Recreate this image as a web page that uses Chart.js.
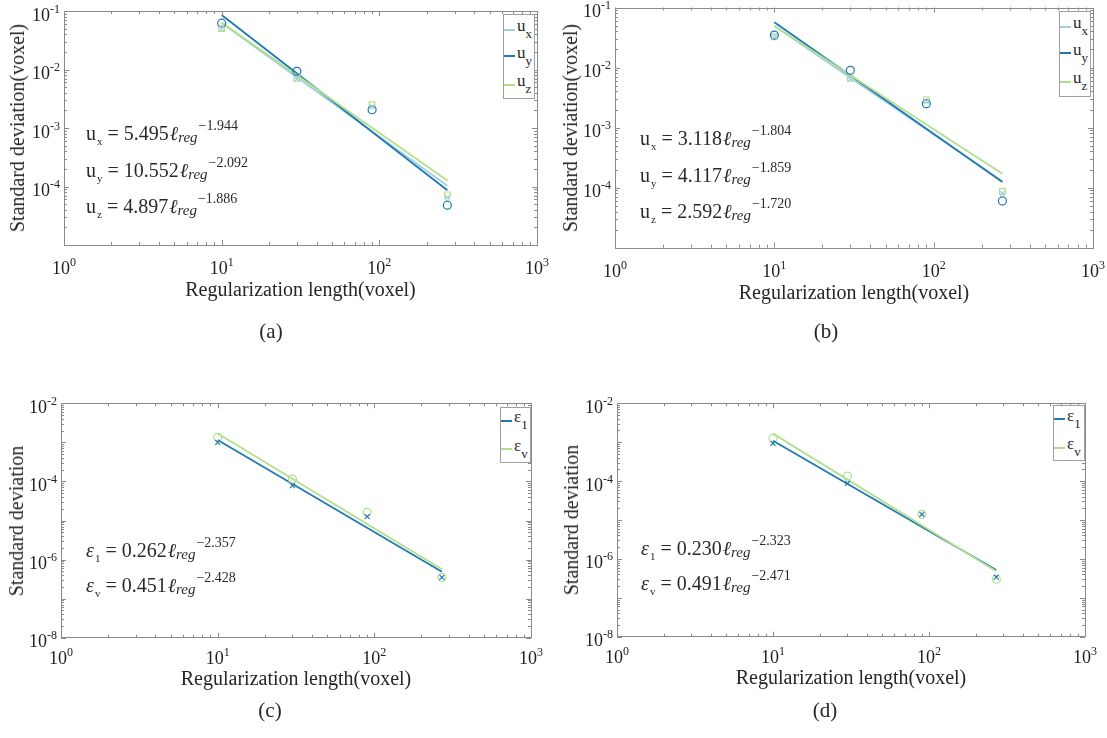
<!DOCTYPE html>
<html lang="en">
<head>
  <meta charset="UTF-8">
  <title>Standard deviation vs regularization length</title>
  <script src="https://cdn.jsdelivr.net/npm/chart.js"></script>
  <style>
    body {
      margin: 0;
      background: #fff;
      font-family: "Liberation Serif", "Times New Roman", serif;
      color: #262626;
    }
    #page { position: relative; width: 1107px; height: 738px; overflow: hidden; }
    .panel { position: absolute; width: 553px; height: 369px; }
    .panel canvas { position: absolute; left: 0; top: 0; }
    .txt { position: absolute; white-space: nowrap; line-height: 1; }
    .xtitle { font-size: 20px; transform: translateX(-50%); }
    .ytitle { font-size: 20px; transform: translate(-50%, -50%) rotate(-90deg); }
    .caption { font-size: 21px; transform: translateX(-50%); }
    .eq { font-size: 20px; color: #2a2a2a; }
    .eq .sub { font-size: 11px; position: relative; top: 5px; margin-left: 1px; }
    .eq .ell { font-style: italic; margin-left: 1px; }
    .eq .reg { font-size: 15px; font-style: italic; position: relative; top: 2px; }
    .eq .sup { font-size: 14px; position: relative; top: -10px; margin-left: 1px; }
    .eq .gr { font-style: italic; }
    .legend { position: absolute; border: 1px solid #a0a0a0; background: #fff; box-sizing: border-box; }
    .lline { position: absolute; left: 0; width: 11px; height: 2px; }
    .ltxt { position: absolute; left: 13px; font-size: 17px; line-height: 1; white-space: nowrap; color: #262626; }
    .ltxt .lsub { font-size: 13px; position: relative; top: 7px; }
  </style>
</head>
<body>
<div id="page"></div>

<script>
  // x positions of the measurements and of the fitted lines
  const regLength = [10, 30, 90, 270];
  const fitEnds = [10, 270];
  const xTickExps = [0, 1, 2, 3];

  // (a) displacement
  const aUx = [0.050, 0.0069, 0.0023, 6.5e-5];
  const aUy = [0.062, 0.0093, 0.00205, 4.8e-5];
  const aUz = [0.050, 0.0071, 0.0025, 7.2e-5];
  const aFitUx = [0.0625, 1.03e-4];
  const aFitUy = [0.0854, 8.64e-5];
  const aFitUz = [0.0637, 1.27e-4];
  const aCoef = ['5.495', '10.552', '4.897'];
  const aPow = ['\u22121.944', '\u22122.092', '\u22121.886'];

  // (b) displacement
  const bUx = [0.033, 0.0064, 0.0027, 8.0e-5];
  const bUy = [0.0348, 0.0090, 0.0025, 6.0e-5];
  const bUz = [0.0326, 0.0066, 0.0029, 8.7e-5];
  const bFitUx = [0.0490, 1.28e-4];
  const bFitUy = [0.0570, 1.24e-4];
  const bFitUz = [0.0494, 1.71e-4];
  const bCoef = ['3.118', '4.117', '2.592'];
  const bPow = ['\u22121.804', '\u22121.859', '\u22121.720'];

  const uYTickExps = [-1, -2, -3, -4];
  const uSubs = ['x', 'y', 'z'];

  // (c) strain
  const cE1 = [1.0e-3, 7.8e-5, 1.26e-5, 3.5e-7];
  const cEv = [1.35e-3, 1.15e-4, 1.62e-5, 3.5e-7];
  const cFitE1 = [1.15e-3, 4.87e-7];
  const cFitEv = [1.68e-3, 5.63e-7];
  const cCoef = ['0.262', '0.451'];
  const cPow = ['\u22122.357', '\u22122.428'];

  // (d) strain
  const dE1 = [9.3e-4, 8.7e-5, 1.4e-5, 3.4e-7];
  const dEv = [1.26e-3, 1.35e-4, 1.4e-5, 3.0e-7];
  const dFitE1 = [1.09e-3, 5.17e-7];
  const dFitEv = [1.66e-3, 4.82e-7];
  const dCoef = ['0.230', '0.491'];
  const dPow = ['\u22122.323', '\u22122.471'];

  const eYTickExps = [-2, -4, -6, -8];
  const eSubs = ['1', 'v'];

  const LIGHT = '#a6cee3', BLUE = '#1f78b4', GREEN = '#b2df8a';
  const AXIS = '#8a8a8a', INK = '#222';

  const panels = [
    { left: 0, top: 0, area: [64, 11, 537, 245], yRange: [-5, -1], yTicks: uYTickExps,
      xLabelDy: 29, xTitleDy: 51, yTitle: 'Standard deviation(voxel)', yTitleX: 17,
      caption: '(a)', capX: 271, capY: 331, eqX: 86, eqBase: [140, 176.7, 213],
      sym: 'u', symItalic: false, subs: uSubs, coefs: aCoef, pows: aPow,
      colors: [LIGHT, BLUE, GREEN], marks: ['crossRot', 'circle', 'rect'],
      points: [aUx, aUy, aUz], fits: [aFitUx, aFitUy, aFitUz],
      legend: { x: 503, y: 14, w: 32, h: 85, rows: [15.7, 42.3, 70.7] } },
    { left: 553, top: 0, area: [62, 7.5, 540, 247.7], yRange: [-5, -1], yTicks: uYTickExps,
      xLabelDy: 29, xTitleDy: 51, yTitle: 'Standard deviation(voxel)', yTitleX: 17,
      caption: '(b)', capX: 273, capY: 331, eqX: 87, eqBase: [145, 181.5, 218],
      sym: 'u', symItalic: false, subs: uSubs, coefs: bCoef, pows: bPow,
      colors: [LIGHT, BLUE, GREEN], marks: ['crossRot', 'circle', 'rect'],
      points: [bUx, bUy, bUz], fits: [bFitUx, bFitUy, bFitUz],
      legend: { x: 506, y: 11, w: 32, h: 86, rows: [15.7, 42.3, 70.7] } },
    { left: 0, top: 369, area: [61, 34.3, 531, 268.7], yRange: [-8, -2], yTicks: eYTickExps,
      xLabelDy: 26.5, xTitleDy: 47, yTitle: 'Standard deviation', yTitleX: 16,
      caption: '(c)', capX: 270, capY: 341, eqX: 86, eqBase: [187.5, 222.7],
      sym: '\u03b5', symItalic: true, subs: eSubs, coefs: cCoef, pows: cPow,
      colors: [BLUE, GREEN], marks: ['crossRot', 'circle'],
      points: [cE1, cEv], fits: [cFitE1, cFitEv],
      legend: { x: 500, y: 37.5, w: 31, h: 56, rows: [14.3, 42.7] } },
    { left: 553, top: 369, area: [64, 34.3, 532, 267.7], yRange: [-8, -2], yTicks: eYTickExps,
      xLabelDy: 26.5, xTitleDy: 47, yTitle: 'Standard deviation', yTitleX: 18,
      caption: '(d)', capX: 272, capY: 341, eqX: 88, eqBase: [186, 221],
      sym: '\u03b5', symItalic: true, subs: eSubs, coefs: dCoef, pows: dPow,
      colors: [BLUE, GREEN], marks: ['crossRot', 'circle'],
      points: [dE1, dEv], fits: [dFitE1, dFitEv],
      legend: { x: 500, y: 36, w: 32, h: 56, rows: [14.3, 42.7] } }
  ];

  function pairs(xs, ys) {
    return xs.map((x, i) => ({ x, y: ys[i] }));
  }

  // "10" with a raised exponent, the way MATLAB writes log tick labels
  function drawPow(ctx, exp, x, base, align) {
    ctx.font = '18px "Liberation Serif"';
    const w1 = ctx.measureText('10').width;
    ctx.font = '12px "Liberation Serif"';
    const s = String(exp);
    const w2 = ctx.measureText(s).width;
    const x0 = align === 'center' ? x - (w1 + w2) / 2 : x - w1 - w2;
    ctx.font = '18px "Liberation Serif"';
    ctx.fillText('10', x0, base);
    ctx.font = '12px "Liberation Serif"';
    ctx.fillText(s, x0 + w1, base - 8);
  }

  function axesPlugin(p) {
    return {
      id: 'logAxes',
      afterDraw(chart) {
        const ctx = chart.ctx;
        const xs = chart.scales.x, ys = chart.scales.y;
        const { left, right, top, bottom } = chart.chartArea;
        ctx.save();
        ctx.strokeStyle = AXIS;
        ctx.lineWidth = 1;
        ctx.beginPath();
        for (let e = xTickExps[0]; e < xTickExps[xTickExps.length - 1]; e++) {
          for (let m = 1; m <= 9; m++) {
            const px = Math.round(xs.getPixelForValue(m * Math.pow(10, e))) + 0.5;
            const len = m === 1 ? 5 : 3;
            ctx.moveTo(px, bottom); ctx.lineTo(px, bottom - len);
            ctx.moveTo(px, top); ctx.lineTo(px, top + len);
          }
        }
        for (let e = p.yRange[0]; e < p.yRange[1]; e++) {
          for (let m = 1; m <= 9; m++) {
            const py = Math.round(ys.getPixelForValue(m * Math.pow(10, e))) + 0.5;
            const len = m === 1 ? 5 : 3;
            ctx.moveTo(left, py); ctx.lineTo(left + len, py);
            ctx.moveTo(right, py); ctx.lineTo(right - len, py);
          }
        }
        ctx.stroke();
        ctx.strokeRect(Math.round(left) + 0.5, Math.round(top) + 0.5,
          Math.round(right - left), Math.round(bottom - top));

        ctx.fillStyle = INK;
        ctx.textAlign = 'left';
        ctx.textBaseline = 'alphabetic';
        xTickExps.forEach(e => {
          drawPow(ctx, e, xs.getPixelForValue(Math.pow(10, e)), bottom + p.xLabelDy, 'center');
        });
        p.yTicks.forEach(e => {
          drawPow(ctx, e, left - 4, ys.getPixelForValue(Math.pow(10, e)) + 9.5, 'right');
        });
        ctx.restore();
      }
    };
  }

  function addText(parent, cls, html, left, top) {
    const d = document.createElement('div');
    d.className = 'txt ' + cls;
    d.innerHTML = html;
    d.style.left = left + 'px';
    d.style.top = top + 'px';
    parent.appendChild(d);
    return d;
  }

  const page = document.getElementById('page');

  panels.forEach(p => {
    const wrap = document.createElement('div');
    wrap.className = 'panel';
    wrap.style.left = p.left + 'px';
    wrap.style.top = p.top + 'px';
    page.appendChild(wrap);

    const canvas = document.createElement('canvas');
    canvas.width = 553;
    canvas.height = 369;
    wrap.appendChild(canvas);

    const [l, t, r, b] = p.area;

    // markers on top, then fitted lines (first one listed sits highest)
    const datasets = [];
    p.points.forEach((ys, i) => {
      datasets.push({
        data: pairs(regLength, ys),
        showLine: false,
        pointStyle: p.marks[i],
        pointRadius: p.marks[i] === 'crossRot' ? 3.5 : 4,
        pointBorderWidth: 1.2,
        borderColor: p.colors[i],
        backgroundColor: 'rgba(0,0,0,0)'
      });
    });
    for (let i = p.fits.length - 1; i >= 0; i--) {
      datasets.push({
        data: pairs(fitEnds, p.fits[i]),
        showLine: true,
        pointRadius: 0,
        borderWidth: 1.8,
        borderColor: p.colors[i],
        backgroundColor: p.colors[i]
      });
    }

    new Chart(canvas, {
      type: 'scatter',
      data: { datasets },
      options: {
        responsive: false,
        animation: false,
        layout: { padding: { left: l, top: t, right: 553 - r, bottom: 369 - b } },
        plugins: { legend: { display: false }, tooltip: { enabled: false } },
        scales: {
          x: { type: 'logarithmic', min: Math.pow(10, xTickExps[0]),
               max: Math.pow(10, xTickExps[xTickExps.length - 1]), display: false },
          y: { type: 'logarithmic', min: Math.pow(10, p.yRange[0]),
               max: Math.pow(10, p.yRange[1]), display: false }
        }
      },
      plugins: [axesPlugin(p)]
    });

    // titles and caption
    addText(wrap, 'xtitle', 'Regularization length(voxel)', (l + r) / 2, b + p.xTitleDy - 0.8375 * 20);
    addText(wrap, 'ytitle', p.yTitle, p.yTitleX, (t + b) / 2);
    addText(wrap, 'caption', p.caption, p.capX, p.capY - 10.5);

    // fitted power laws
    const sym = p.symItalic ? '<span class="gr">' + p.sym + '</span>' : p.sym;
    p.coefs.forEach((c, i) => {
      const html = sym + '<span class="sub">' + p.subs[i] + '</span> = ' + c +
        '<span class="ell">\u2113</span><span class="reg">reg</span><span class="sup">' + p.pows[i] + '</span>';
      addText(wrap, 'eq', html, p.eqX, p.eqBase[i] - 0.8375 * 20);
    });

    // legend box
    const lg = document.createElement('div');
    lg.className = 'legend';
    lg.style.left = p.legend.x + 'px';
    lg.style.top = p.legend.y + 'px';
    lg.style.width = p.legend.w + 'px';
    lg.style.height = p.legend.h + 'px';
    wrap.appendChild(lg);
    p.subs.forEach((s, i) => {
      const row = p.legend.rows[i];
      const ln = document.createElement('span');
      ln.className = 'lline';
      ln.style.top = (row - 2) + 'px';
      ln.style.background = p.colors[i];
      lg.appendChild(ln);
      const tx = document.createElement('div');
      tx.className = 'ltxt';
      tx.innerHTML = p.sym + '<span class="lsub">' + s + '</span>';
      tx.style.top = (row + 1.6 - 0.8375 * 17 - 1) + 'px';
      lg.appendChild(tx);
    });
  });
</script>
</body>
</html>
